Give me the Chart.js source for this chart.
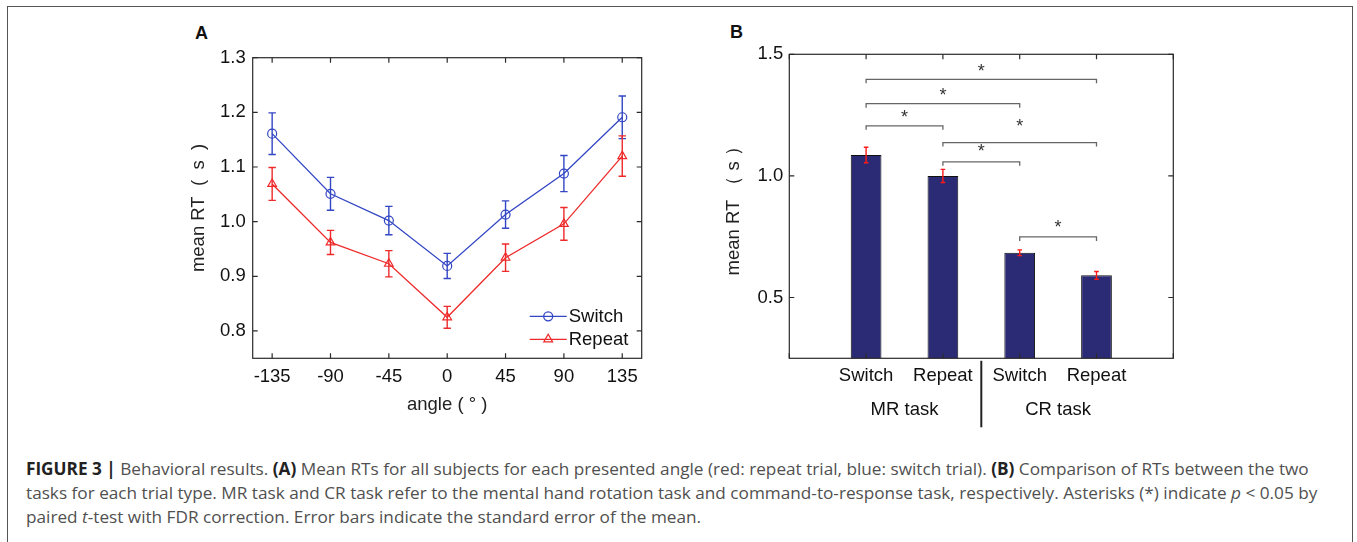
<!DOCTYPE html>
<html>
<head>
<meta charset="utf-8">
<script src="https://cdn.jsdelivr.net/npm/chart.js@4.4.0/dist/chart.umd.min.js"></script>
<style>
body{margin:0;background:#fff;width:1357px;height:542px;overflow:hidden;position:relative;font-family:"Liberation Sans",Arial,sans-serif}
#frame{position:absolute;left:7px;top:6px;width:1346px;height:600px;border:1.5px solid #555;box-sizing:border-box}
.box{position:absolute}
#boxA{left:180px;top:20px}
#boxB{left:720px;top:20px}
.letter{position:absolute;font-weight:bold;font-size:18px;color:#111;line-height:18px}
#caption{position:absolute;left:26px;top:457px;font-family:"Open Sans",sans-serif;font-size:17.2px;line-height:24px;color:#505050;white-space:nowrap}
#caption b{color:#222}
</style>
</head>
<body>
<div id="frame"></div>
<div class="letter" style="left:195px;top:24px">A</div>
<div class="letter" style="left:730px;top:23px">B</div>
<div class="box" id="boxA"><canvas id="chartA" width="480" height="400"></canvas></div>
<div class="box" id="boxB"><canvas id="chartB" width="480" height="420"></canvas></div>
<div id="caption">
<b>FIGURE 3 |</b> Behavioral results. <b>(A)</b> Mean RTs for all subjects for each presented angle (red: repeat trial, blue: switch trial). <b>(B)</b> Comparison of RTs between the two<br>
tasks for each trial type. MR task and CR task refer to the mental hand rotation task and command-to-response task, respectively. Asterisks (*) indicate <i>p</i> &lt; 0.05 by<br>
paired <i>t</i>-test with FDR correction. Error bars indicate the standard error of the mean.
</div>
<script>
// panel A data
var angles = [-135, -90, -45, 0, 45, 90, 135];
var switchRT = [1.161, 1.051, 1.002, 0.919, 1.013, 1.088, 1.191];
var switchSE = [0.038, 0.030, 0.026, 0.023, 0.025, 0.033, 0.039];
var repeatRT = [1.069, 0.962, 0.923, 0.825, 0.934, 0.996, 1.120];
var repeatSE = [0.030, 0.022, 0.024, 0.020, 0.025, 0.030, 0.037];
var angleTicks = [-135, -90, -45, 0, 45, 90, 135];
var rtTicksA = [0.8, 0.9, 1.0, 1.1, 1.2, 1.3];

// panel B data
var trialTypes = ['', 'Switch', 'Repeat', 'Switch', 'Repeat', ''];
var taskNames = ['MR task', 'CR task'];
var barRT = [null, 1.086, 1.000, 0.684, 0.591, null];
var barSE = [null, 0.032, 0.027, 0.012, 0.016, null];
var rtTicksB = [0.5, 1.0, 1.5];

// significance brackets (bar index from / to, bracket level, star level)
var sigFrom = [1, 1, 1, 2, 2, 3];
var sigTo = [4, 3, 2, 4, 3, 4];
var sigLevel = [1.397, 1.297, 1.206, 1.137, 1.058, 0.749];
var starLevel = [1.445, 1.346, 1.254, 1.216, 1.113, 0.804];

Chart.defaults.font.family = '"Liberation Sans", Arial, sans-serif';
Chart.defaults.font.size = 18.5;
Chart.defaults.color = '#222';

var blue = '#3346c4';
var red = '#ee2a2a';

// frame + inward ticks like matlab
var boxTicks = {
    id: 'boxTicks',
    afterDraw: function(chart){
        var a = chart.chartArea, ctx = chart.ctx;
        var len = 5;
        ctx.save();
        ctx.strokeStyle = '#2a2a2a';
        ctx.lineWidth = 1.2;
        ctx.strokeRect(a.left, a.top, a.right - a.left, a.bottom - a.top);
        ctx.beginPath();
        chart.scales.x.ticks.forEach(function(t){
            var px = chart.scales.x.getPixelForValue(t.value);
            ctx.moveTo(px, a.bottom); ctx.lineTo(px, a.bottom - len);
            ctx.moveTo(px, a.top); ctx.lineTo(px, a.top + len);
        });
        chart.scales.y.ticks.forEach(function(t){
            var py = chart.scales.y.getPixelForValue(t.value);
            ctx.moveTo(a.left, py); ctx.lineTo(a.left + len, py);
            ctx.moveTo(a.right, py); ctx.lineTo(a.right - len, py);
        });
        ctx.stroke();
        ctx.restore();
    }
};

var errorBars = {
    id: 'errorBars',
    afterDatasetsDraw: function(chart){
        var ctx = chart.ctx, ys = chart.scales.y;
        chart.data.datasets.forEach(function(ds, i){
            if(!ds.errors) return;
            var meta = chart.getDatasetMeta(i);
            ctx.save();
            ctx.strokeStyle = ds.errorColor || ds.borderColor;
            ctx.lineWidth = 1.4;
            meta.data.forEach(function(el, j){
                var e = ds.errors[j];
                if(e == null) return;
                var v = ys.getValueForPixel(el.y);
                var top = ys.getPixelForValue(v + e), bot = ys.getPixelForValue(v - e);
                var w = ds.capWidth;
                ctx.beginPath();
                ctx.moveTo(el.x, top); ctx.lineTo(el.x, bot);
                ctx.moveTo(el.x - w, top); ctx.lineTo(el.x + w, top);
                ctx.moveTo(el.x - w, bot); ctx.lineTo(el.x + w, bot);
                ctx.stroke();
            });
            ctx.restore();
        });
    }
};

function marker(ctx, style, x, y, r){
    ctx.beginPath();
    if(style == 'circle'){
        ctx.arc(x, y, r, 0, Math.PI * 2);
    } else {
        ctx.moveTo(x, y - r);
        ctx.lineTo(x + r * 0.866, y + r * 0.5);
        ctx.lineTo(x - r * 0.866, y + r * 0.5);
        ctx.closePath();
    }
    ctx.stroke();
}

// legend in the lower right corner of the plot
var insideLegend = {
    id: 'insideLegend',
    afterDraw: function(chart){
        var a = chart.chartArea, ctx = chart.ctx;
        ctx.save();
        ctx.font = '18.5px "Liberation Sans", Arial';
        ctx.textBaseline = 'middle';
        chart.data.datasets.forEach(function(ds, i){
            var y = a.bottom - 42 + i * 23;
            var x0 = a.right - 112, x1 = a.right - 75;
            ctx.strokeStyle = ds.borderColor;
            ctx.lineWidth = 1.3;
            ctx.beginPath(); ctx.moveTo(x0, y); ctx.lineTo(x1, y); ctx.stroke();
            marker(ctx, ds.pointStyle, (x0 + x1) / 2, y, ds.pointRadius);
            ctx.fillStyle = '#111';
            ctx.fillText(ds.label, a.right - 73, y + 1);
        });
        ctx.restore();
    }
};

function pts(ys){
    return angles.map(function(a, i){ return {x: a, y: ys[i]}; });
}

new Chart(document.getElementById('chartA'), {
    type: 'line',
    data: {
        datasets: [{
            label: 'Switch',
            data: pts(switchRT),
            errors: switchSE,
            capWidth: 3.7,
            borderColor: blue,
            borderWidth: 1.3,
            pointStyle: 'circle',
            pointRadius: 4.5,
            pointBorderWidth: 1.2,
            pointBackgroundColor: 'rgba(0,0,0,0)',
            tension: 0
        }, {
            label: 'Repeat',
            data: pts(repeatRT),
            errors: repeatSE,
            capWidth: 3.7,
            borderColor: red,
            borderWidth: 1.3,
            pointStyle: 'triangle',
            pointRadius: 5,
            pointBorderWidth: 1.2,
            pointBackgroundColor: 'rgba(0,0,0,0)',
            tension: 0
        }]
    },
    options: {
        responsive: false,
        animation: false,
        layout: { padding: { top: 37.7, right: 18.3, left: 0, bottom: 0 } },
        plugins: { legend: { display: false }, tooltip: { enabled: false } },
        scales: {
            x: {
                type: 'linear',
                min: -150, max: 150,
                afterBuildTicks: function(s){ s.ticks = angleTicks.map(function(v){ return {value: v}; }); },
                afterFit: function(s){ s.height = 61.7; },
                ticks: { padding: 8, color: '#111', callback: function(v){ return String(v); } },
                grid: { display: false, drawTicks: false },
                border: { display: false },
                title: { display: true, text: 'angle ( ° )', color: '#222', padding: { top: 0, bottom: 4 } }
            },
            y: {
                min: 0.75, max: 1.3,
                afterBuildTicks: function(s){ s.ticks = rtTicksA.map(function(v){ return {value: v}; }); },
                afterFit: function(s){ s.width = 72.7; },
                ticks: { padding: 7, color: '#111', callback: function(v){ return v.toFixed(1); } },
                grid: { display: false, drawTicks: false },
                border: { display: false },
                title: { display: true, text: 'mean RT  (  s  )', color: '#222', padding: { top: 8, bottom: 0 } }
            }
        }
    },
    plugins: [boxTicks, errorBars, insideLegend]
});

// brackets with stars, task group labels
var sigMarks = {
    id: 'sigMarks',
    afterDraw: function(chart){
        var xs = chart.scales.x, ys = chart.scales.y, a = chart.chartArea, ctx = chart.ctx;
        ctx.save();
        ctx.strokeStyle = '#666';
        ctx.lineWidth = 1.3;
        ctx.fillStyle = '#333';
        ctx.font = '18px "Liberation Sans", Arial';
        ctx.textAlign = 'center';
        ctx.textBaseline = 'middle';
        sigFrom.forEach(function(f, i){
            var x0 = xs.getPixelForValue(f), x1 = xs.getPixelForValue(sigTo[i]);
            var y = ys.getPixelForValue(sigLevel[i]);
            ctx.beginPath();
            ctx.moveTo(x0, y + 4); ctx.lineTo(x0, y); ctx.lineTo(x1, y); ctx.lineTo(x1, y + 4);
            ctx.stroke();
            ctx.fillText('*', (x0 + x1) / 2, ys.getPixelForValue(starLevel[i]) + 4);
        });
        // task labels under the categories
        ctx.fillStyle = '#111';
        ctx.font = '18.5px "Liberation Sans", Arial';
        taskNames.forEach(function(n, k){
            var cx = (xs.getPixelForValue(1 + 2 * k) + xs.getPixelForValue(2 + 2 * k)) / 2;
            ctx.fillText(n, cx, a.bottom + 52);
        });
        var sx = xs.getPixelForValue(2.5);
        ctx.strokeStyle = '#222';
        ctx.lineWidth = 2;
        ctx.beginPath(); ctx.moveTo(sx, a.bottom + 2.5); ctx.lineTo(sx, a.bottom + 69); ctx.stroke();
        ctx.restore();
    }
};

new Chart(document.getElementById('chartB'), {
    type: 'bar',
    data: {
        labels: trialTypes,
        datasets: [{
            data: barRT,
            errors: barSE,
            capWidth: 2.3,
            errorColor: '#ff1a1a',
            backgroundColor: '#2b2a74',
            borderColor: '#111',
            borderWidth: 1,
            barPercentage: 0.4,
            categoryPercentage: 1.0
        }]
    },
    options: {
        responsive: false,
        animation: false,
        layout: { padding: { top: 34.3, right: 26.7, left: 0, bottom: 0 } },
        plugins: { legend: { display: false }, tooltip: { enabled: false } },
        scales: {
            x: {
                offset: false,
                afterFit: function(s){ s.height = 81.7; },
                ticks: { padding: 6.5, color: '#111', maxRotation: 0, autoSkip: false },
                grid: { display: false, drawTicks: false },
                border: { display: false }
            },
            y: {
                min: 0.25, max: 1.5,
                afterBuildTicks: function(s){ s.ticks = rtTicksB.map(function(v){ return {value: v}; }); },
                afterFit: function(s){ s.width = 69.3; },
                ticks: { padding: 6, color: '#111', callback: function(v){ return v.toFixed(1); } },
                grid: { display: false, drawTicks: false },
                border: { display: false },
                title: { display: true, text: 'mean RT （ s ）', color: '#222', padding: { top: 3, bottom: 0 } }
            }
        }
    },
    plugins: [boxTicks, errorBars, sigMarks]
});
</script>
</body>
</html>
